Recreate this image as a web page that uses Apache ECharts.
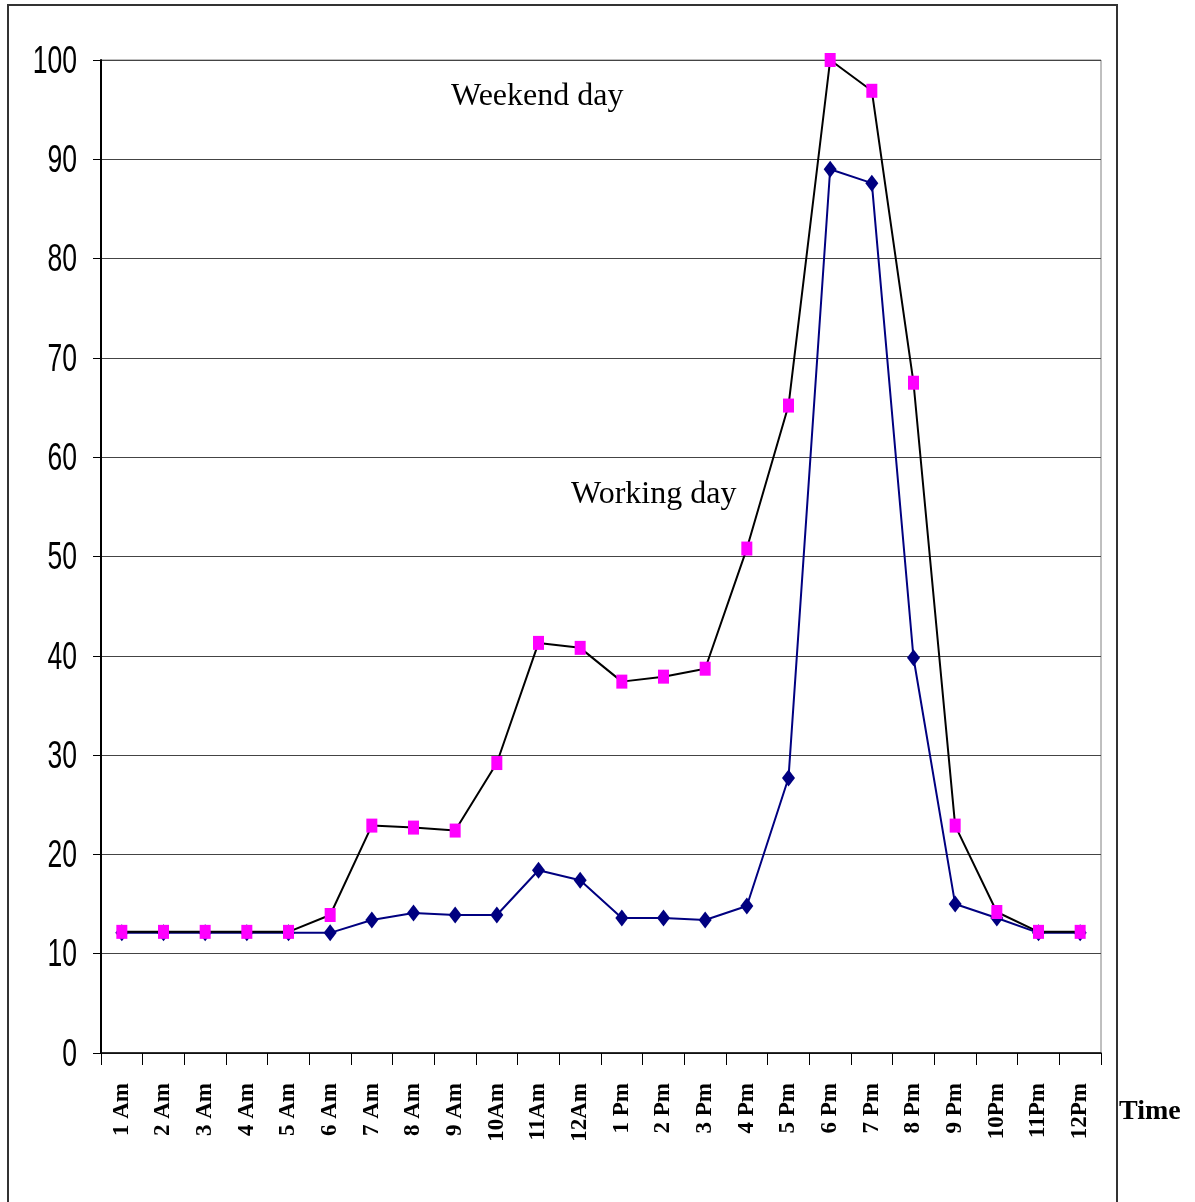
<!DOCTYPE html>
<html>
<head>
<meta charset="utf-8">
<title>Hourly profile: working day vs weekend day</title>
<script src="https://cdn.jsdelivr.net/npm/echarts@6/dist/echarts.min.js"></script>
<style>
  html, body { margin: 0; padding: 0; background: #fff; }
  #chart { width: 1195px; height: 1202px; }
</style>
</head>
<body>
<div id="chart"></div>
<script>
// Hour-of-day categories
const hours = [
  '1 Am', '2 Am', '3 Am', '4 Am', '5 Am', '6 Am', '7 Am', '8 Am', '9 Am', '10Am', '11Am', '12Am',
  '1 Pm', '2 Pm', '3 Pm', '4 Pm', '5 Pm', '6 Pm', '7 Pm', '8 Pm', '9 Pm', '10Pm', '11Pm', '12Pm'
];

// Working day profile
const workingDay = [
  12.1, 12.1, 12.1, 12.1, 12.1, 12.1, 13.4, 14.1, 13.9, 13.9, 18.4, 17.4,
  13.6, 13.6, 13.4, 14.8, 27.7, 89.0, 87.6, 39.8, 15.0, 13.6, 12.1, 12.1
];

// Weekend day profile
const weekendDay = [
  12.2, 12.2, 12.2, 12.2, 12.2, 13.9, 22.9, 22.7, 22.4, 29.2, 41.3, 40.8,
  37.4, 37.9, 38.7, 50.8, 65.2, 100, 96.9, 67.5, 22.9, 14.2, 12.2, 12.2
];

// Value axis ticks
const yTicks = [0, 10, 20, 30, 40, 50, 60, 70, 80, 90, 100];

const serifFont = '"Liberation Serif", "Times New Roman", serif';

const chart = echarts.init(document.getElementById('chart'), null, { renderer: 'canvas' });

const staticGraphics = [
  {
    type: 'rect',
    silent: true,
    shape: { x: 8, y: 5, width: 1109, height: 1240 },
    style: { fill: null, stroke: '#333', lineWidth: 2 },
    z: -10
  },
  {
    type: 'text',
    left: 451,
    top: 81,
    style: { text: 'Weekend day', font: '32px ' + serifFont, fill: '#000' }
  },
  {
    type: 'text',
    left: 571,
    top: 479,
    style: { text: 'Working day', font: '32px ' + serifFont, fill: '#000' }
  },
  {
    type: 'text',
    left: 1119,
    top: 1098,
    style: { text: 'Time', font: 'bold 28px ' + serifFont, fill: '#000' }
  }
];

chart.setOption({
  animation: false,
  backgroundColor: '#ffffff',
  grid: { left: 101, top: 60, right: 94, bottom: 149, show: true, borderColor: '#808080', borderWidth: 1, backgroundColor: 'transparent' },
  xAxis: {
    type: 'category',
    data: hours,
    boundaryGap: true,
    axisLine: { show: true, lineStyle: { color: '#000', width: 1.5 } },
    axisTick: { show: true, length: 12, alignWithLabel: false, lineStyle: { color: '#000', width: 1 } },
    axisLabel: {
      interval: 0,
      rotate: 90,
      margin: 30,
      fontFamily: serifFont,
      fontWeight: 'bold',
      fontSize: 23,
      color: '#000'
    },
    splitLine: { show: false }
  },
  yAxis: {
    type: 'value',
    min: yTicks[0],
    max: yTicks[yTicks.length - 1],
    interval: 10,
    axisLine: { show: true, lineStyle: { color: '#000', width: 2 } },
    axisTick: { show: true, length: 8, inside: false, lineStyle: { color: '#000', width: 1 } },
    // labels are drawn below as condensed text
    axisLabel: { show: false },
    splitLine: { show: true, lineStyle: { color: '#444', width: 1 } }
  },
  series: [
    {
      name: 'Working day',
      type: 'line',
      data: workingDay,
      symbol: 'diamond',
      symbolSize: [13, 17],
      showAllSymbol: true,
      itemStyle: { color: '#000080' },
      lineStyle: { color: '#000080', width: 2 },
      z: 3
    },
    {
      name: 'Weekend day',
      type: 'line',
      data: weekendDay,
      symbol: 'rect',
      symbolSize: [11, 14],
      showAllSymbol: true,
      itemStyle: { color: '#ff00ff' },
      lineStyle: { color: '#000', width: 2 },
      z: 4
    }
  ],
  graphic: staticGraphics
});

// Condensed value-axis labels, placed with the axis scale
const tickLabels = yTicks.map(function (v) {
  const py = chart.convertToPixel({ yAxisIndex: 0 }, v);
  return {
    type: 'text',
    x: 77,
    y: py + 2,
    scaleX: 0.68,
    silent: true,
    style: {
      text: String(v),
      font: '39px "Liberation Sans", Arial, sans-serif',
      fill: '#000',
      textAlign: 'right',
      textVerticalAlign: 'middle'
    }
  };
});

chart.setOption({ graphic: staticGraphics.concat(tickLabels) });
</script>
</body>
</html>
